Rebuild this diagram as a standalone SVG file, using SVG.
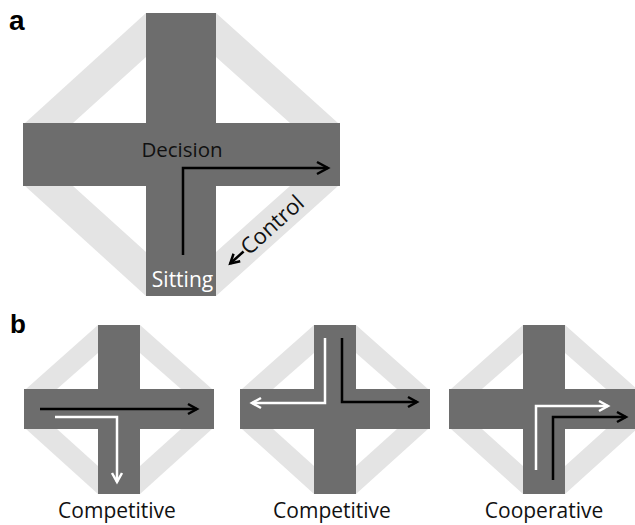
<svg xmlns="http://www.w3.org/2000/svg" xmlns:xlink="http://www.w3.org/1999/xlink" width="635" height="525" viewBox="0 0 635 525">
<style>
.band{fill:#e4e4e4}
.hole{fill:#ffffff}
.bar{fill:#6d6d6d}
.lbl{font-family:"Liberation Sans",Arial,sans-serif;font-weight:bold;fill:#000}
.txt{font-family:"Open Sans","Liberation Sans",Arial,sans-serif;fill:#111}
.blk{fill:none;stroke:#000;stroke-width:2.5}
.wht{fill:none;stroke:#fff;stroke-width:2.5}
</style>
<defs>
<marker id="hb" markerUnits="userSpaceOnUse" markerWidth="16" markerHeight="16" refX="12" refY="7" orient="auto" viewBox="0 0 16 14">
<path d="M1,1 L12,7 L1,13" fill="none" stroke="#000" stroke-width="2.5"/>
</marker>
<marker id="hbs" markerUnits="userSpaceOnUse" markerWidth="14" markerHeight="14" refX="10" refY="6" orient="auto" viewBox="0 0 14 12">
<path d="M1,1 L10,6 L1,11" fill="none" stroke="#000" stroke-width="2.5"/>
</marker>
<marker id="hws" markerUnits="userSpaceOnUse" markerWidth="14" markerHeight="14" refX="10" refY="6" orient="auto" viewBox="0 0 14 12">
<path d="M1,1 L10,6 L1,11" fill="none" stroke="#fff" stroke-width="2.5"/>
</marker>
<g id="crossB">
<polygon class="band" points="-21,-84 21,-84 93,-20 93,20 21,85 -21,85 -93,20 -93,-20"/>
<polygon class="hole" points="-21,-56 21,-56 62,-20 62,20 21,57 -21,57 -62,20 -62,-20"/>
<rect class="bar" x="-21" y="-84" width="42" height="169"/>
<rect class="bar" x="-95" y="-20" width="190" height="40"/>
</g>
</defs>

<text class="lbl" x="9" y="30" font-size="28">a</text>
<text class="lbl" x="10" y="333" font-size="26">b</text>

<g id="crossA">
<polygon class="band" points="146,13 216,13 338,123 338,186 216,296 146,296 25,186 25,123"/>
<polygon class="hole" points="146,57 216,57 290,123 290,186 216,252 146,252 73,186 73,123"/>
<rect class="bar" x="146" y="13" width="70" height="283"/>
<rect class="bar" x="23" y="123" width="317" height="63"/>
<text class="txt" x="182" y="157" font-size="20.5" text-anchor="middle">Decision</text>
<text x="182.5" y="287" font-size="21" text-anchor="middle" style="font-family:'Open Sans','Liberation Sans',Arial,sans-serif;fill:#fff">Sitting</text>
<g transform="translate(249,256) rotate(-42)">
<text class="txt" x="0" y="0" font-size="22">Control</text>
</g>
</g>

<g id="cross1"><use xlink:href="#crossB" href="#crossB" transform="translate(119,409)"/>
<text class="txt" x="117" y="518" font-size="21" text-anchor="middle">Competitive</text></g>
<g id="cross2"><use xlink:href="#crossB" href="#crossB" transform="translate(335,409)"/>
<text class="txt" x="332" y="518" font-size="21" text-anchor="middle">Competitive</text></g>
<g id="cross3"><use xlink:href="#crossB" href="#crossB" transform="translate(544,409)"/>
<text class="txt" x="544" y="518" font-size="21" text-anchor="middle">Cooperative</text></g>

<g id="connectors">
<path class="blk" d="M183,255 V168 H328" marker-end="url(#hb)"/>
<g transform="translate(249,256) rotate(-42)">
<path class="blk" d="M-1,-7 H-19" marker-end="url(#hbs)"/>
</g>
<path class="blk" d="M40,409 H197" marker-end="url(#hbs)"/>
<path class="wht" d="M55,417 H117 V482" marker-end="url(#hws)"/>
<path class="wht" d="M325,338 V403 H252" marker-end="url(#hws)"/>
<path class="blk" d="M342,338 V402 H417" marker-end="url(#hbs)"/>
<path class="wht" d="M536,470 V406 H608" marker-end="url(#hws)"/>
<path class="blk" d="M553,480 V417 H626" marker-end="url(#hbs)"/>
</g>
</svg>
